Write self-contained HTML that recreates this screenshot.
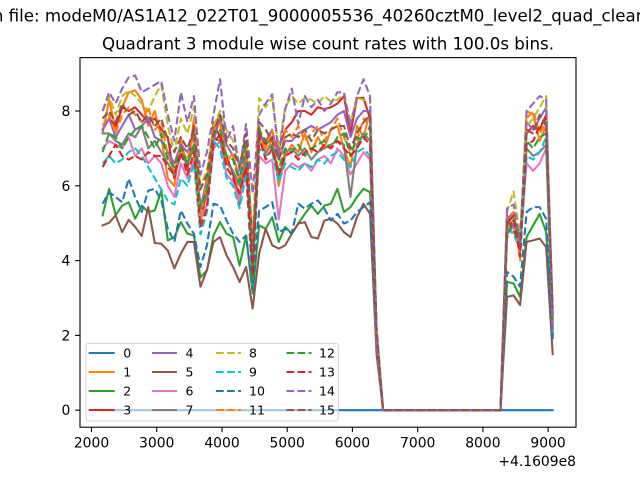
<!DOCTYPE html>
<html><head><meta charset="utf-8"><style>
html,body{margin:0;padding:0;background:#fff;}
svg{display:block;}
text{font-family:"DejaVu Sans","Liberation Sans",sans-serif;fill:#000;}
.l{fill:none;stroke-width:2.08;stroke-linejoin:round;vector-effect:non-scaling-stroke;}
.s{stroke-linecap:square;}
.d{stroke-dasharray:7.7 3.33;stroke-linecap:butt;}
</style></head><body>
<svg width="640" height="480" viewBox="0 0 640 480" xmlns="http://www.w3.org/2000/svg">
<rect width="640" height="480" fill="#fff"/>
<text x="-7.2" y="21.5" font-size="16.67">n file: modeM0/AS1A12_022T01_9000005536_40260cztM0_level2_quad_clean.evt</text>
<text x="328" y="49.3" font-size="16.67" text-anchor="middle">Quadrant 3 module wise count rates with 100.0s bins.</text>
<rect x="80" y="57.6" width="496" height="369.6" fill="#fff"/>
<g transform="translate(102.6 410.2) scale(6.523 -37.4)">
<polyline class="l s" stroke="#1f77b4" points="0,0 69,0"/>
<polyline class="l s" stroke="#ff7f0e" points="0,7.4 1,8.3 2,7.5 3,8.1 4,8.5 5,8.55 6,8.3 7,7.6 8,8.0 9,7.3 10,6.2 11,6.0 12,7.3 13,6.4 14,7.8 15,5.2 16,5.8 17,7.6 18,7.9 19,6.7 20,6.4 21,5.7 22,7.0 23,3.8 24,7.6 25,6.8 26,7.3 27,6.0 28,6.8 29,7.1 30,6.9 31,7.4 32,6.9 33,7.3 34,7.0 35,7.5 36,7.6 37,7.0 38,6.5 39,7.6 40,7.3 41,8.0 42,2.1 43,0 61,0 62,5.0 63,5.2 64,4.3 65,8.0 66,7.9 67,7.2 68,7.6 69,2.3"/>
<polyline class="l s" stroke="#2ca02c" points="0,5.21 1,5.92 2,5.21 3,5.47 4,5.56 5,5.12 6,5.47 7,5.30 8,5.34 9,5.87 10,4.54 11,4.63 12,5.03 13,4.72 14,4.67 15,3.55 16,3.74 17,4.67 18,5.03 19,4.72 20,4.63 21,3.87 22,4.67 23,3.12 24,4.94 25,4.85 26,5.16 27,4.50 28,4.90 29,4.72 30,4.99 31,5.25 32,5.47 33,5.25 34,5.47 35,5.52 36,5.92 37,5.30 38,5.43 39,5.70 40,5.92 41,5.83 42,2.0 43,0 61,0 62,3.43 63,3.39 64,3.03 65,4.63 66,4.94 67,5.25 68,4.76 69,2.0"/>
<polyline class="l s" stroke="#d62728" points="0,7.5 1,7.8 2,7.6 3,8.1 4,8.0 5,8.1 6,7.9 7,7.7 8,7.8 9,7.5 10,7.3 11,6.2 12,7.1 13,6.5 14,7.6 15,5.0 16,5.9 17,7.7 18,7.3 19,6.8 20,6.3 21,5.5 22,6.8 23,3.9 24,7.4 25,7.1 26,7.3 27,7.0 28,7.5 29,7.7 30,8.0 31,8.0 32,7.9 33,8.1 34,8.05 35,8.1 36,8.2 37,8.4 38,7.4 39,8.35 40,8.35 41,7.8 42,2.0 43,0 61,0 62,5.2 63,4.9 64,4.6 65,7.4 66,7.6 67,7.5 68,7.9 69,2.0"/>
<polyline class="l s" stroke="#9467bd" points="0,7.5 1,7.8 2,7.3 3,7.6 4,7.9 5,7.5 6,7.6 7,7.8 8,7.3 9,7.2 10,6.9 11,6.6 12,7.1 13,6.9 14,7.3 15,5.4 16,6.2 17,7.2 18,7.8 19,7.1 20,6.8 21,6.2 22,7.0 23,4.5 24,7.3 25,7.2 26,7.5 27,6.7 28,7.2 29,7.2 30,7.4 31,7.5 32,7.6 33,7.5 34,7.6 35,7.7 36,7.9 37,8.0 38,7.3 39,7.8 40,8.0 41,8.0 42,2.1 43,0 61,0 62,5.1 63,5.3 64,4.2 65,7.7 66,7.5 67,7.8 68,8.1 69,2.6"/>
<polyline class="l s" stroke="#8c564b" points="0,4.94 1,5.01 2,5.21 3,4.76 4,5.09 5,4.90 6,4.66 7,5.43 8,4.47 9,4.45 10,4.27 11,3.79 12,4.19 13,4.50 14,4.50 15,3.30 16,3.75 17,4.50 18,4.63 19,4.14 20,3.83 21,3.43 22,3.83 23,2.72 24,4.19 25,4.85 26,4.41 27,4.32 28,4.41 29,4.72 30,4.99 31,5.03 32,4.63 33,4.59 34,5.07 35,5.12 36,4.99 37,4.76 38,4.63 39,5.16 40,5.52 41,5.25 42,1.5 43,0 61,0 62,3.03 63,3.07 64,2.81 65,4.50 66,4.54 67,4.59 68,4.36 69,1.5"/>
<polyline class="l s" stroke="#e377c2" points="0,7.0 1,7.2 2,7.1 3,7.0 4,7.3 5,6.8 6,7.0 7,6.6 8,6.8 9,6.6 10,6.0 11,5.7 12,6.6 13,6.2 14,6.7 15,5.1 16,5.5 17,7.0 18,7.2 19,6.3 20,6.1 21,5.6 22,6.4 23,4.1 24,6.8 25,6.6 26,6.7 27,5.1 28,6.4 29,6.6 30,6.5 31,6.6 32,6.4 33,6.7 34,6.8 35,6.6 36,7.0 37,6.8 38,6.3 39,6.6 40,6.9 41,6.7 42,1.8 43,0 61,0 62,4.7 63,4.9 64,4.4 65,6.6 66,6.4 67,6.6 68,7.0 69,2.2"/>
<polyline class="l s" stroke="#7f7f7f" points="0,7.4 1,7.4 2,7.2 3,7.1 4,7.4 5,7.3 6,7.6 7,7.0 8,7.2 9,6.9 10,6.6 11,6.3 12,6.8 13,6.6 14,7.0 15,5.5 16,5.7 17,7.3 18,7.2 19,6.6 20,6.4 21,6.0 22,6.7 23,4.0 24,7.2 25,6.9 26,7.1 27,6.2 28,6.9 29,7.0 30,6.8 31,7.0 32,6.7 33,6.9 34,7.0 35,7.1 36,7.2 37,7.1 38,5.7 39,7.1 40,7.4 41,7.2 42,1.9 43,0 61,0 62,4.7 63,5.0 64,4.5 65,7.0 66,6.8 67,6.9 68,7.1 69,2.2"/>
<polyline class="l d" stroke="#bcbd22" points="0,8.0 1,8.4 2,7.9 3,8.4 4,8.55 5,8.4 6,8.2 7,8.0 8,8.4 9,8.7 10,7.6 11,6.9 12,7.8 13,7.4 14,8.1 15,6.0 16,6.4 17,7.6 18,8.0 19,7.5 20,7.2 21,6.6 22,7.2 23,4.6 24,8.35 25,8.1 26,8.35 27,7.0 28,8.1 29,8.4 30,8.2 31,8.35 32,8.3 33,8.2 34,8.4 35,8.25 36,8.3 37,8.45 38,7.7 39,8.35 40,8.3 41,8.35 42,2.2 43,0 61,0 62,5.3 63,5.85 64,4.7 65,7.6 66,7.8 67,8.1 68,8.4 69,2.4"/>
<polyline class="l d" stroke="#17becf" points="0,6.6 1,6.8 2,6.6 3,6.7 4,6.9 5,7.0 6,6.8 7,6.5 8,6.2 9,5.9 10,5.6 11,5.5 12,6.2 13,6.0 14,6.6 15,4.7 16,5.3 17,7.2 18,7.0 19,6.2 20,6.0 21,5.4 22,6.3 23,3.3 24,7.0 25,6.8 26,6.9 27,6.1 28,6.6 29,6.5 30,6.4 31,6.6 32,6.5 33,6.7 34,6.6 35,6.8 36,6.9 37,6.7 38,6.5 39,6.9 40,7.0 41,6.8 42,1.9 43,0 61,0 62,4.9 63,4.7 64,4.3 65,6.8 66,6.7 67,6.9 68,7.3 69,2.0"/>
<polyline class="l d" stroke="#1f77b4" points="0,5.52 1,5.83 2,5.70 3,5.56 4,6.19 5,5.70 6,5.30 7,5.87 8,5.92 9,5.61 10,4.85 11,4.50 12,5.34 13,4.99 14,4.72 15,3.83 16,4.41 17,5.52 18,5.47 19,5.07 20,4.72 21,4.50 22,4.67 23,3.21 24,5.34 25,5.43 26,5.56 27,4.76 28,4.85 29,4.72 30,5.52 31,5.39 32,5.52 33,5.61 34,5.39 35,5.07 36,5.25 37,4.99 38,5.07 39,5.30 40,5.43 41,5.56 42,1.9 43,0 61,0 62,3.70 63,3.57 64,3.30 65,5.30 66,5.43 67,5.43 68,5.12 69,1.9"/>
<polyline class="l d" stroke="#ff7f0e" points="0,7.6 1,7.9 2,7.4 3,7.9 4,8.1 5,7.9 6,7.7 7,8.1 8,7.5 9,7.7 10,6.8 11,6.4 12,7.0 13,6.7 14,7.4 15,5.0 16,6.2 17,7.5 18,7.7 19,6.6 20,6.9 21,6.1 22,7.1 23,4.3 24,7.2 25,7.0 26,7.5 27,6.3 28,7.5 29,7.3 30,7.6 31,7.2 32,7.4 33,7.6 34,7.2 35,7.5 36,7.8 37,7.3 38,6.9 39,7.2 40,7.8 41,7.6 42,2.0 43,0 61,0 62,4.8 63,5.3 64,4.0 65,7.8 66,8.0 67,7.4 68,7.7 69,2.5"/>
<polyline class="l d" stroke="#2ca02c" points="0,6.9 1,7.4 2,7.3 3,7.0 4,7.3 5,7.5 6,7.6 7,7.3 8,7.0 9,7.4 10,6.7 11,6.5 12,7.0 13,6.6 14,7.1 15,5.4 16,5.9 17,7.4 18,7.5 19,6.8 20,6.7 21,6.1 22,7.2 23,3.5 24,7.5 25,7.2 26,7.0 27,6.4 28,7.0 29,6.9 30,7.1 31,6.8 32,7.0 33,7.1 34,7.2 35,7.0 36,7.3 37,7.4 38,6.8 39,7.3 40,7.2 41,7.6 42,2.0 43,0 61,0 62,4.6 63,5.1 64,4.6 65,7.2 66,7.0 67,7.3 68,7.4 69,2.3"/>
<polyline class="l d" stroke="#d62728" points="0,6.5 1,6.8 2,7.1 3,6.8 4,6.7 5,6.8 6,6.7 7,6.9 8,6.8 9,6.8 10,6.5 11,6.3 12,6.9 13,6.3 14,6.9 15,4.9 16,5.4 17,7.1 18,7.4 19,6.5 20,6.2 21,5.8 22,6.5 23,3.6 24,7.3 25,6.7 26,7.0 27,6.3 28,6.8 29,6.9 30,6.7 31,6.9 32,7.0 33,6.9 34,7.1 35,7.0 36,7.2 37,7.0 38,6.8 39,7.0 40,7.3 41,7.1 42,1.9 43,0 61,0 62,5.0 63,5.2 64,4.1 65,7.1 66,7.2 67,7.6 68,7.8 69,2.5"/>
<polyline class="l d" stroke="#9467bd" points="0,8.0 1,8.5 2,8.2 3,8.6 4,8.9 5,8.95 6,8.5 7,8.6 8,8.7 9,8.8 10,7.9 11,7.2 12,8.5 13,7.7 14,8.4 15,6.3 16,6.9 17,7.9 18,8.85 19,7.2 20,7.6 21,6.4 22,7.65 23,5.8 24,7.9 25,8.2 26,8.45 27,6.8 28,8.05 29,8.6 30,7.65 31,8.4 32,8.1 33,8.3 34,8.0 35,8.2 36,8.5 37,8.5 38,7.6 39,8.4 40,8.85 41,8.4 42,1.8 43,0 61,0 62,5.4 63,5.5 64,4.5 65,8.0 66,8.2 67,8.4 68,8.3 69,2.1"/>
<polyline class="l d" stroke="#8c564b" points="0,7.8 1,8.0 2,7.7 3,8.2 4,7.9 5,8.0 6,7.7 7,7.9 8,7.6 9,7.8 10,7.2 11,6.9 12,7.3 13,7.0 14,7.5 15,5.9 16,6.3 17,7.4 18,7.9 19,7.2 20,7.0 21,6.5 22,7.4 23,4.2 24,7.7 25,7.5 26,7.2 27,6.7 28,7.3 29,7.4 30,7.3 31,7.5 32,7.2 33,7.5 34,7.4 35,7.5 36,7.6 37,7.6 38,7.0 39,7.4 40,7.7 41,7.9 42,2.2 43,0 61,0 62,5.1 63,4.8 64,4.4 65,7.5 66,7.4 67,7.9 68,7.6 69,2.7"/>
</g>
<rect x="80" y="57.6" width="496" height="369.6" fill="none" stroke="#000" stroke-width="1.1"/>
<g stroke="#000" stroke-width="1.1">
<line x1="91.5" y1="427.2" x2="91.5" y2="432.1"/>
<line x1="156.7" y1="427.2" x2="156.7" y2="432.1"/>
<line x1="222" y1="427.2" x2="222" y2="432.1"/>
<line x1="287.2" y1="427.2" x2="287.2" y2="432.1"/>
<line x1="352.4" y1="427.2" x2="352.4" y2="432.1"/>
<line x1="417.7" y1="427.2" x2="417.7" y2="432.1"/>
<line x1="482.9" y1="427.2" x2="482.9" y2="432.1"/>
<line x1="548.1" y1="427.2" x2="548.1" y2="432.1"/>
<line x1="75.1" y1="410.2" x2="80" y2="410.2"/>
<line x1="75.1" y1="335.4" x2="80" y2="335.4"/>
<line x1="75.1" y1="260.6" x2="80" y2="260.6"/>
<line x1="75.1" y1="185.8" x2="80" y2="185.8"/>
<line x1="75.1" y1="111" x2="80" y2="111"/>
</g>
<g font-size="13.9" text-anchor="middle">
<text x="91.5" y="447.3">2000</text>
<text x="156.7" y="447.3">3000</text>
<text x="222" y="447.3">4000</text>
<text x="287.2" y="447.3">5000</text>
<text x="352.4" y="447.3">6000</text>
<text x="417.7" y="447.3">7000</text>
<text x="482.9" y="447.3">8000</text>
<text x="548.1" y="447.3">9000</text>
</g>
<text x="576" y="466" font-size="13.9" text-anchor="end">+4.1609e8</text>
<g font-size="13.9" text-anchor="end">
<text x="70.3" y="415.2">0</text>
<text x="70.3" y="340.4">2</text>
<text x="70.3" y="265.6">4</text>
<text x="70.3" y="190.8">6</text>
<text x="70.3" y="116">8</text>
</g>
<rect x="86" y="343.3" width="252.3" height="77.7" rx="2.8" ry="2.8" fill="#fff" fill-opacity="0.6" stroke="#cccccc" stroke-opacity="0.8" stroke-width="1.1"/>
<g fill="none" stroke-width="2.08">
<line x1="88.7" y1="353" x2="114.7" y2="353" stroke="#1f77b4"/>
<line x1="88.7" y1="372" x2="114.7" y2="372" stroke="#ff7f0e"/>
<line x1="88.7" y1="391" x2="114.7" y2="391" stroke="#2ca02c"/>
<line x1="88.7" y1="410" x2="114.7" y2="410" stroke="#d62728"/>
<line x1="152" y1="353" x2="177" y2="353" stroke="#9467bd"/>
<line x1="152" y1="372" x2="177" y2="372" stroke="#8c564b"/>
<line x1="152" y1="391" x2="177" y2="391" stroke="#e377c2"/>
<line x1="152" y1="410" x2="177" y2="410" stroke="#7f7f7f"/>
<g stroke-dasharray="7.7 3.33">
<line x1="216" y1="353" x2="241" y2="353" stroke="#bcbd22"/>
<line x1="216" y1="372" x2="241" y2="372" stroke="#17becf"/>
<line x1="216" y1="391" x2="241" y2="391" stroke="#1f77b4"/>
<line x1="216" y1="410" x2="241" y2="410" stroke="#ff7f0e"/>
<line x1="286.5" y1="353" x2="311.5" y2="353" stroke="#2ca02c"/>
<line x1="286.5" y1="372" x2="311.5" y2="372" stroke="#d62728"/>
<line x1="286.5" y1="391" x2="311.5" y2="391" stroke="#9467bd"/>
<line x1="286.5" y1="410" x2="311.5" y2="410" stroke="#8c564b"/>
</g>
</g>
<g font-size="12.5">
<text x="123.3" y="357.5">0</text>
<text x="123.3" y="376.5">1</text>
<text x="123.3" y="395.5">2</text>
<text x="123.3" y="414.5">3</text>
<text x="185.5" y="357.5">4</text>
<text x="185.5" y="376.5">5</text>
<text x="185.5" y="395.5">6</text>
<text x="185.5" y="414.5">7</text>
<text x="249" y="357.5">8</text>
<text x="249" y="376.5">9</text>
<text x="249" y="395.5">10</text>
<text x="249" y="414.5">11</text>
<text x="319" y="357.5">12</text>
<text x="319" y="376.5">13</text>
<text x="319" y="395.5">14</text>
<text x="319" y="414.5">15</text>
</g>
</svg>
</body></html>
